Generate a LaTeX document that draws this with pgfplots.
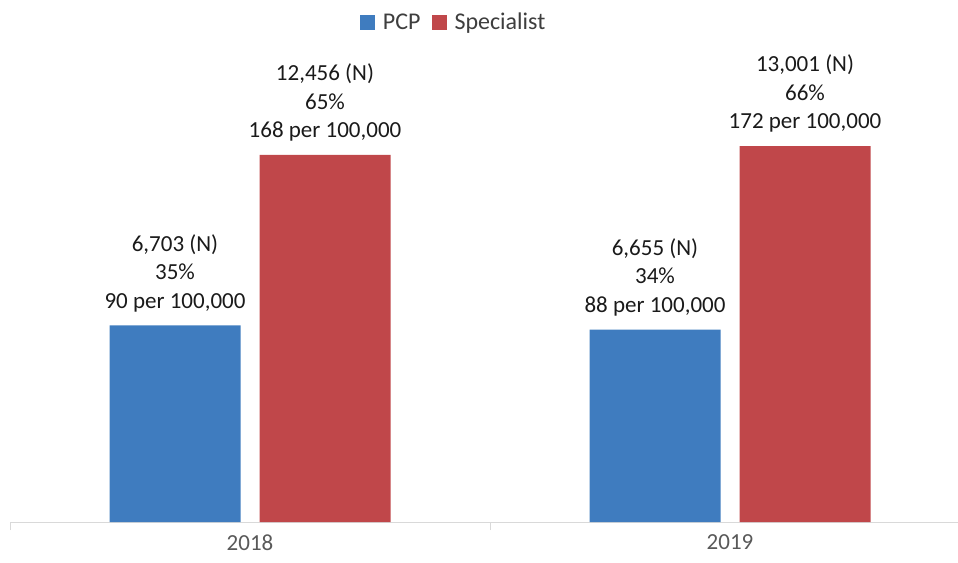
\documentclass[border=0pt]{standalone}
\usepackage{pgfplots}
\pgfplotsset{compat=1.18}
\usepackage{fontspec}
\setmainfont{Carlito}
\definecolor{pcp}{HTML}{3F7CBF}
\definecolor{spec}{HTML}{C0474A}
\definecolor{axgray}{HTML}{D9D9D9}
\definecolor{txtgray}{HTML}{595959}
\definecolor{lbl}{HTML}{1A1A1A}
\begin{document}
\begin{tikzpicture}
\begin{axis}[
  at={(10pt,40pt)}, anchor=south west,
  scale only axis,
  width=948pt, height=480.7pt,
  xmin=-0.5, xmax=1.475,
  ymin=0, ymax=220,
  axis x line*=bottom,
  axis y line=none,
  x axis line style={draw=axgray, line width=1pt},
  xtick={0,1},
  xticklabels={2018,2019},
  major tick length=0pt,
  extra x ticks={-0.5,0.5},
  extra x tick labels={},
  extra x tick style={major tick length=8pt, tick style={draw=axgray, line width=1pt}},
  tick align=outside,
  xticklabel style={font=\fontsize{23}{27}\selectfont, text=txtgray, yshift=-9pt},
  ybar,
  bar width=131pt,
  nodes near coords,
  point meta=explicit symbolic,
  every node near coord/.append style={font=\fontsize{23}{28.5}\selectfont, align=center, text=lbl, yshift=10pt},
  legend style={at={(0.468,1.04)}, anchor=center, draw=none, legend columns=-1,
    font=\fontsize{24}{28}\selectfont, text=txtgray!70!black,
    /tikz/every odd column/.append style={column sep=6pt},
    /tikz/every even column/.append style={column sep=9pt}},
  legend image code/.code={\fill[#1] (0pt,-7.5pt) rectangle (15pt,7.5pt);},
]
\addplot[fill=pcp, draw=none, bar shift=-75pt] coordinates {
  (0,90) [{6,703 (N)\\35\%\\90 per 100,000}]
  (1,88) [{6,655 (N)\\34\%\\88 per 100,000}]
};
\addplot[fill=spec, draw=none, bar shift=75pt] coordinates {
  (0,168) [{12,456 (N)\\65\%\\168 per 100,000}]
  (1,172) [{13,001 (N)\\66\%\\172 per 100,000}]
};
\legend{PCP,Specialist}
\end{axis}
\pgfresetboundingbox
\path[use as bounding box] (0,0) rectangle (958pt,562pt);
\end{tikzpicture}
\end{document}
